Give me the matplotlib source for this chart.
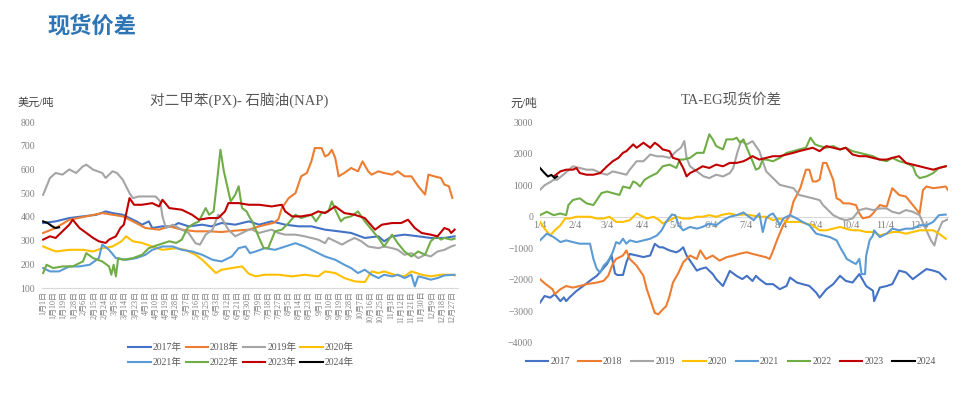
import matplotlib.pyplot as plt
import pandas as pd

plt.rcParams['font.family'] = ['Liberation Serif', 'Noto Sans CJK SC', 'DejaVu Sans']

years = ['2017', '2018', '2019', '2020', '2021', '2022', '2023', '2024']
c = ['#4472C4', '#ED7D31', '#A5A5A5', '#FFC000', '#5B9BD5', '#70AD47', '#C00000', '#000000']

# ---- 左图: PX-NAP 价差 (美元/吨), x = 一年中的第几天(1月1日=0) ----
px17_d = [0, 11, 23, 35, 47, 55, 61, 70, 76, 82, 87, 93, 96, 105, 114, 119, 128, 140, 148, 157, 169, 181,
          190, 201, 213, 225, 236, 248, 260, 271, 283, 295, 300, 307, 318, 330, 341, 353, 362]
px17_v = [374, 381, 395, 402, 409, 423, 416, 409, 395, 381, 367, 381, 353, 360, 360, 374, 360, 367, 360, 374, 367, 381,
          367, 381, 367, 360, 360, 346, 339, 332, 311, 318, 297, 318, 325, 318, 311, 311, 318]

px18_d = [0, 11, 23, 38, 52, 61, 70, 79, 90, 102, 111, 122, 134, 146, 157, 169, 181, 190, 196, 203, 207, 210, 216,
          222, 227, 232, 236, 239, 245, 248, 251, 254, 257, 260, 265, 271, 277, 281, 286, 289, 295, 300, 307, 312,
          318, 324, 330, 336, 339, 344, 350, 353, 357, 360]
px18_v = [332, 353, 388, 402, 416, 409, 402, 381, 353, 346, 360, 346, 339, 339, 336, 342, 346, 360, 367, 375, 390, 437,
          479, 500, 571, 585, 634, 690, 690, 655, 662, 683, 648, 571, 585, 606, 592, 634, 592, 578, 592, 585, 578, 592,
          571, 571, 529, 494, 578, 571, 564, 536, 529, 480]

px19_d = [0, 6, 11, 17, 23, 29, 35, 38, 44, 52, 55, 61, 65, 70, 76, 79, 84, 93, 99, 103, 105, 108, 114, 122, 128,
          134, 138, 143, 149, 154, 157, 163, 169, 175, 181, 184, 190, 195, 201, 207, 213, 222, 230, 236, 242, 248,
          251, 257, 263, 268, 274, 280, 286, 295, 300, 307, 312, 318, 324, 330, 336, 341, 347, 353, 359, 362]
px19_v = [493, 564, 585, 578, 600, 585, 613, 620, 599, 585, 564, 592, 585, 557, 500, 479, 486, 486, 486, 465, 402,
          353, 367, 346, 332, 289, 283, 325, 346, 409, 395, 346, 318, 332, 346, 346, 332, 339, 346, 332, 325, 325,
          318, 311, 304, 289, 311, 297, 283, 297, 311, 297, 275, 268, 275, 268, 261, 240, 247, 226, 240, 233, 254,
          261, 275, 280]

px20_d = [0, 11, 23, 35, 44, 52, 61, 69, 73, 79, 87, 96, 105, 117, 125, 134, 140, 146, 152, 157, 166, 175, 181,
          187, 195, 207, 219, 230, 242, 248, 257, 265, 274, 283, 289, 295, 300, 309, 318, 324, 333, 341, 350, 359, 362]
px20_v = [275, 254, 261, 261, 254, 268, 275, 297, 318, 297, 290, 275, 261, 268, 261, 240, 219, 191, 163, 177, 184,
          191, 160, 149, 156, 156, 149, 156, 149, 170, 163, 142, 128, 125, 170, 163, 170, 156, 149, 170, 156, 149,
          156, 156, 153]

px21_d = [0, 6, 14, 23, 32, 41, 49, 52, 58, 64, 73, 82, 90, 96, 105, 114, 122, 131, 140, 149, 157, 166, 172, 178,
          182, 187, 195, 204, 213, 222, 230, 239, 248, 257, 265, 271, 277, 283, 289, 295, 300, 307, 312, 318, 324,
          327, 330, 336, 341, 347, 353, 362]
px21_v = [184, 170, 170, 191, 191, 198, 226, 283, 261, 226, 219, 226, 240, 261, 275, 275, 261, 254, 240, 219, 212,
          233, 268, 275, 247, 254, 268, 261, 275, 289, 275, 254, 233, 219, 198, 184, 163, 177, 156, 142, 156, 149,
          156, 142, 156, 107, 149, 142, 135, 142, 153, 156]

px22_d = [0, 3, 9, 17, 26, 35, 38, 44, 52, 58, 60, 62, 64, 66, 70, 79, 87, 93, 102, 111, 117, 122, 127, 131, 137,
          140, 143, 146, 150, 153, 156, 159, 162, 165, 169, 172, 175, 179, 182, 184, 190, 194, 198, 204, 210, 216,
          222, 227, 236, 240, 245, 251, 254, 257, 262, 265, 271, 277, 283, 289, 295, 300, 307, 312, 318, 324, 330,
          336, 341, 346, 350, 353, 359, 362]
px22_v = [163, 198, 184, 191, 191, 212, 247, 226, 212, 191, 156, 198, 149, 226, 219, 226, 240, 268, 283, 297, 290,
          304, 353, 367, 381, 409, 437, 409, 423, 550, 683, 592, 529, 465, 493, 529, 437, 423, 395, 381, 311, 268,
          268, 339, 346, 374, 409, 395, 409, 381, 416, 423, 465, 430, 381, 395, 402, 423, 381, 346, 311, 275, 325,
          289, 254, 233, 254, 240, 297, 318, 304, 311, 304, 308]

px23_d = [0, 6, 11, 17, 23, 26, 32, 38, 44, 49, 55, 58, 64, 68, 71, 76, 80, 87, 96, 102, 105, 111, 122, 131, 137,
          146, 154, 160, 163, 172, 181, 190, 201, 210, 213, 219, 227, 236, 242, 248, 257, 265, 274, 283, 292, 298,
          307, 315, 321, 327, 333, 341, 347, 353, 357, 359, 362]
px23_v = [304, 318, 311, 339, 367, 388, 353, 332, 311, 297, 290, 304, 318, 353, 367, 479, 451, 451, 458, 444, 472,
          437, 430, 409, 388, 395, 395, 423, 458, 458, 451, 451, 444, 451, 423, 402, 402, 409, 423, 416, 444, 416,
          409, 395, 346, 367, 374, 374, 388, 353, 332, 325, 318, 353, 346, 332, 346]

px24_d = [0, 4, 8, 11, 14]
px24_v = [381, 374, 360, 353, 356]

# ---- 右图: TA-EG 现货价差 (元/吨), x = 一年中的第几天 ----
ta17_d = [3, 7, 12, 16, 21, 24, 26, 29, 35, 41, 47, 53, 57, 62, 66, 69, 71, 76, 79, 82, 88, 94, 100, 104, 108,
          111, 117, 123, 126, 129, 132, 138, 141, 144, 149, 155, 158, 164, 170, 176, 181, 185, 190, 193, 196, 202,
          208, 214, 220, 223, 229, 234, 240, 246, 249, 255, 261, 267, 272, 278, 284, 290, 296, 297, 302, 308, 313,
          319, 325, 331, 337, 343, 349, 354, 360]
ta17_v = [-2730, -2517, -2570, -2460, -2680, -2560, -2680, -2560, -2360, -2200, -2030, -1875, -1710, -1500, -1230,
          -1800, -1850, -1850, -1450, -1180, -1230, -1280, -1230, -860, -970, -970, -1070, -1130, -1070, -970, -1230,
          -1550, -1710, -1660, -1610, -1820, -1980, -2200, -1720, -1880, -1980, -1875, -2040, -1875, -1980, -2140,
          -2140, -2300, -2196, -1930, -2089, -2140, -2196, -2410, -2570, -2303, -2140, -1875, -2036, -2089, -1820,
          -2200, -2350, -2680, -2250, -2200, -2140, -1710, -1768, -1982, -1820, -1660, -1710, -1768, -1982]

ta18_d = [3, 8, 14, 16, 21, 26, 32, 38, 44, 53, 59, 63, 67, 70, 76, 79, 82, 88, 94, 97, 100, 104, 107, 111, 114,
          117, 120, 125, 129, 135, 141, 144, 149, 155, 161, 167, 173, 178, 185, 190, 196, 202, 205, 207, 212, 217,
          223, 226, 229, 232, 237, 240, 243, 246, 249, 252, 255, 258, 261, 264, 267, 270, 275, 281, 284, 287, 293,
          296, 302, 308, 313, 319, 325, 331, 337, 340, 343, 349, 354, 360, 362]
ta18_v = [-1982, -2140, -2300, -2460, -2300, -2200, -2250, -2200, -2140, -2090, -2036, -1875, -1500, -1340, -1230,
          -1070, -1340, -1554, -1875, -2303, -2624, -3052, -3100, -2945, -2838, -2517, -2089, -1768, -1447, -1233,
          -1340, -1070, -1340, -1233, -1393, -1287, -1233, -1180, -1126, -1180, -1233, -1287, -1340, -1180, -698,
          -270, 51, 479, 690, 907, 1495, 1495, 1120, 1120, 1175, 1710, 1710, 1442, 1175, 586, 532, 425, 425, 372,
          105, -50, 0, 105, 372, 320, 907, 693, 640, 372, 105, 850, 960, 907, 930, 960, 850]

ta19_d = [3, 7, 12, 15, 18, 24, 32, 38, 44, 50, 56, 62, 67, 73, 79, 82, 88, 94, 100, 106, 111, 117, 123, 127, 130,
          132, 135, 141, 147, 152, 158, 164, 170, 173, 177, 180, 185, 190, 196, 202, 208, 214, 220, 226, 231, 237,
          243, 249, 252, 255, 261, 267, 272, 278, 284, 290, 296, 302, 308, 313, 319, 325, 331, 337, 343, 347, 350,
          353, 357, 362]
ta19_v = [854, 1000, 1100, 1175, 1175, 1350, 1603, 1550, 1495, 1495, 1390, 1335, 1440, 1390, 1335, 1495, 1763, 1763,
          1977, 1920, 1920, 1870, 2084, 2191, 2405, 1870, 1603, 1442, 1280, 1228, 1335, 1280, 1388, 1548, 2084, 2405,
          2300, 2400, 2084, 1442, 1228, 1014, 960, 907, 693, 640, 586, 530, 372, 265, 51, -56, -110, -56, 212, 265,
          212, 265, 265, 158, 105, 212, 158, 51, -430, -750, -912, -484, -163, -80]

ta20_d = [3, 7, 12, 16, 21, 25, 29, 35, 41, 47, 53, 59, 64, 70, 76, 82, 88, 91, 97, 103, 108, 111, 117, 123, 129,
          135, 141, 146, 152, 158, 164, 170, 176, 183, 188, 196, 202, 208, 214, 220, 226, 232, 237, 243, 249, 255,
          261, 267, 272, 278, 284, 290, 296, 302, 308, 313, 319, 325, 331, 337, 343, 349, 354, 360]
ta20_v = [-163, -377, -591, -430, -270, -56, -56, 0, 0, 0, -56, -56, 0, -163, -163, -108, 105, 51, -56, 0, -108,
          -216, -108, 0, -56, -56, 0, 0, 51, 0, 70, 105, 51, 75, 51, 0, 0, -108, -56, -163, -163, -163, -216, -270,
          -430, -430, -377, -323, -377, -430, -430, -484, -484, -591, -537, -484, -484, -537, -484, -430, -430, -430,
          -535, -698]

ta21_d = [3, 9, 15, 21, 26, 32, 38, 44, 47, 50, 53, 56, 59, 62, 64, 67, 70, 73, 76, 79, 82, 88, 94, 100, 106, 110,
          114, 119, 122, 125, 129, 135, 141, 146, 152, 158, 164, 170, 176, 182, 185, 191, 196, 199, 202, 205, 208,
          211, 214, 217, 223, 229, 234, 240, 246, 252, 258, 264, 267, 273, 278, 281, 284, 286, 289, 290, 293, 296,
          297, 302, 308, 313, 319, 325, 331, 337, 343, 349, 354, 360]
ta21_v = [-750, -537, -645, -805, -750, -805, -856, -856, -856, -1340, -1660, -1768, -1554, -1447, -1340, -1126,
          -805, -856, -698, -856, -750, -805, -750, -698, -591, -430, -163, 70, 51, -270, -430, -323, -377, -323,
          -216, -270, -108, 0, 51, 136, 51, -108, 105, -484, -56, 51, 105, -56, -270, -56, 51, -56, -163, -270, -537,
          -591, -645, -750, -963, -1340, -1447, -1500, -1340, -1822, -1822, -1233, -750, -591, -430, -645, -537,
          -377, -430, -377, -377, -270, -270, -163, 51, 70]

ta22_d = [3, 9, 15, 21, 26, 28, 32, 38, 44, 50, 53, 57, 62, 67, 73, 76, 82, 85, 88, 91, 95, 100, 106, 111, 117,
          123, 126, 129, 135, 141, 147, 152, 155, 158, 164, 167, 173, 176, 179, 182, 185, 190, 193, 196, 199, 202,
          208, 214, 220, 226, 231, 237, 241, 245, 249, 255, 261, 267, 272, 278, 284, 290, 296, 302, 308, 313, 319,
          325, 331, 334, 337, 343, 349, 354, 360]
ta22_v = [51, 158, 51, 105, 51, 372, 532, 586, 426, 372, 532, 750, 800, 750, 693, 960, 907, 1121, 1068, 960, 1175,
          1282, 1388, 1603, 1656, 1550, 1816, 1816, 1870, 2030, 2030, 2619, 2458, 2245, 2138, 2458, 2458, 2512, 2350,
          2458, 2191, 1763, 1495, 1548, 1816, 1816, 1763, 1870, 2030, 2084, 2138, 2191, 2512, 2300, 2245, 2191,
          2245, 2138, 2191, 2084, 2030, 1977, 1923, 1816, 1763, 1870, 1763, 1710, 1603, 1335, 1228, 1280, 1388,
          1548, 1603]

ta23_d = [15, 21, 26, 32, 35, 38, 44, 50, 56, 62, 67, 72, 76, 79, 82, 85, 88, 94, 100, 104, 108, 111, 117, 120,
          125, 129, 132, 135, 141, 146, 152, 158, 164, 170, 176, 182, 185, 190, 196, 202, 208, 214, 220, 226, 231,
          237, 243, 249, 255, 261, 267, 272, 278, 284, 290, 296, 302, 308, 313, 319, 325, 331, 337, 343, 349, 354,
          360]
ta23_v = [1280, 1442, 1495, 1495, 1548, 1388, 1335, 1335, 1388, 1603, 1763, 1870, 2030, 2084, 2191, 2298, 2191,
          2351, 2191, 2351, 2245, 2138, 2084, 1870, 1816, 1548, 1282, 1388, 1495, 1603, 1550, 1656, 1603, 1710, 1710,
          1763, 1816, 1923, 1816, 1870, 1923, 1923, 1977, 2030, 2084, 2138, 2191, 2084, 2245, 2191, 2138, 2191,
          1977, 1923, 1923, 1870, 1816, 1816, 1870, 1923, 1710, 1656, 1603, 1548, 1495, 1548, 1603]

ta24_d = [3, 7, 10, 13, 16, 18]
ta24_v = [1548, 1388, 1280, 1330, 1228, 1280]

px_days = [px17_d, px18_d, px19_d, px20_d, px21_d, px22_d, px23_d, px24_d]
px_vals = [px17_v, px18_v, px19_v, px20_v, px21_v, px22_v, px23_v, px24_v]
ta_days = [ta17_d, ta18_d, ta19_d, ta20_d, ta21_d, ta22_d, ta23_d, ta24_d]
ta_vals = [ta17_v, ta18_v, ta19_v, ta20_v, ta21_v, ta22_v, ta23_v, ta24_v]

# x轴标签
left_tick_days = list(range(0, 361, 9))
left_tick_labels = [f'{d.month}月{d.day}日' for d in pd.Timestamp('2023-01-01') + pd.to_timedelta(left_tick_days, unit='D')]
right_tick_days = [3, 34, 62, 93, 123, 154, 184, 215, 246, 276, 307, 337]
right_tick_labels = [f'{m}/4' for m in range(1, 13)]

W, H = 970, 412
fig = plt.figure(figsize=(W / 100, H / 100), dpi=100)
gray = '#7F7F7F'

fig.text(47 / W, 1 - 26 / H, '现货价差', fontsize=16, weight='bold', color='#2E75B6',
         va='center', ha='left', family=['Noto Sans CJK SC'])

# 左图 ---------------------------------------------------
ax1 = fig.add_axes([42 / W, 124 / H, 416 / W, 166 / H])
lines1 = []
for i in range(len(years)):
    ln, = ax1.plot(px_days[i], px_vals[i], color=c[i], lw=1.5, label=years[i] + '年')
    lines1.append(ln)
ax1.set_xlim(-1, 365)
ax1.set_ylim(100, 800)
ax1.set_yticks(range(100, 801, 100))
ax1.set_xticks(left_tick_days)
ax1.set_xticklabels(left_tick_labels, rotation=90, va='top', ha='center')
ax1.tick_params(axis='y', length=0, labelsize=7, labelcolor=gray, pad=5)
ax1.tick_params(axis='x', length=0, pad=2, labelsize=5.8, labelcolor=gray)
for s in ['top', 'right', 'left']:
    ax1.spines[s].set_visible(False)
ax1.spines['bottom'].set_color('#D9D9D9')
fig.text(239 / W, 1 - 100 / H, '对二甲苯(PX)- 石脑油(NAP)', ha='center', va='center', fontsize=10.5, color='#595959')
fig.text(18 / W, 1 - 103 / H, '美元/吨', ha='left', va='center', fontsize=8, color='#404040')
# 两行四列, 按行排列
order = [0, 4, 1, 5, 2, 6, 3, 7]
fig.legend(handles=[lines1[k] for k in order], loc='center', bbox_to_anchor=(241 / W, 1 - 355 / H), ncol=4,
           frameon=False, fontsize=7, handlelength=2.3, handletextpad=0.2, columnspacing=0.4, labelspacing=0.6,
           labelcolor='#595959')

# 右图 ---------------------------------------------------
ax2 = fig.add_axes([540 / W, 69.3 / H, 408 / W, 220.4 / H])
lines2 = []
for i in range(len(years)):
    ln, = ax2.plot(ta_days[i], ta_vals[i], color=c[i], lw=1.5, label=years[i])
    lines2.append(ln)
ax2.set_xlim(3, 362)
ax2.set_ylim(-4000, 3000)
ax2.set_yticks(range(-4000, 3001, 1000))
ax2.set_xticks(right_tick_days)
ax2.set_xticklabels(right_tick_labels)
ax2.tick_params(axis='y', length=0, labelsize=7, labelcolor=gray, pad=5)
ax2.tick_params(axis='x', length=0, pad=3, labelsize=7.5, labelcolor=gray)
for s in ['top', 'right', 'left']:
    ax2.spines[s].set_visible(False)
ax2.spines['bottom'].set_position(('data', 0))
ax2.spines['bottom'].set_color('#D9D9D9')
ax2.spines['bottom'].set_zorder(0)
fig.text(731 / W, 1 - 100 / H, 'TA-EG现货价差', ha='center', va='center', fontsize=10.5, color='#595959')
fig.text(510 / W, 1 - 104 / H, '元/吨', ha='left', va='center', fontsize=8.5, color='#404040')
fig.legend(handles=lines2, loc='center', bbox_to_anchor=(731 / W, 1 - 362 / H), ncol=8, frameon=False,
           fontsize=7, handlelength=2.3, handletextpad=0.2, columnspacing=0.9, labelcolor='#595959')

plt.savefig('out.png', dpi=100)
